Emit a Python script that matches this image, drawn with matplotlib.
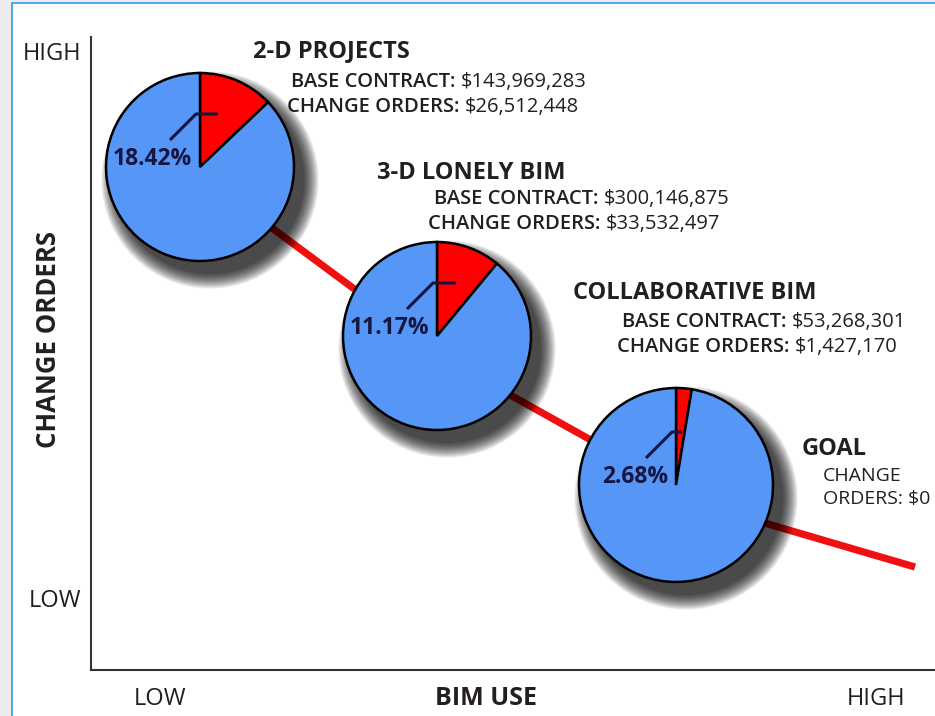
import matplotlib.pyplot as plt
from matplotlib.patches import Circle, Rectangle

plt.rcParams['font.family'] = ['Open Sans', 'DejaVu Sans']

# data
stages = ["2-D PROJECTS", "3-D LONELY BIM", "COLLABORATIVE BIM"]
base_contract = ["$143,969,283", "$300,146,875", "$53,268,301"]
change_orders = ["$26,512,448", "$33,532,497", "$1,427,170"]
pct_labels = ["18.42%", "11.17%", "2.68%"]
red_share = [0.129, 0.110, 0.026]      # slice size as drawn
bim_use = [109, 346, 585]              # pie centres, chart units
change_level = [503, 334, 185]
pie_radius = [94, 94, 97]
leader_end = [18, 19, 6]

curve_x = [109, 181, 262, 346, 421, 498, 585, 677, 759, 824]
curve_y = [503, 442, 382, 334, 274, 231, 185, 146, 122, 103]

# text positions in image pixels (left, baseline)
title_pos = [(253, 57), (377, 179), (573, 299)]
base_pos = [(291, 87), (434, 204), (622, 327)]
change_pos = [(287, 112), (428, 229), (617, 352)]

TXT = '#231f20'
NAVY = '#161640'
BLUE = '#5596f7'
RED = '#ff0000'

fig = plt.figure(figsize=(9.35, 7.16), dpi=100, facecolor='#ececec')

canvas = fig.add_axes([0, 0, 1, 1])
canvas.set_xlim(0, 935)
canvas.set_ylim(716, 0)
canvas.axis('off')
canvas.add_patch(Rectangle((12, 3), 940, 730, facecolor='white',
                           edgecolor='#3aa6e6', lw=1.3))

ax = fig.add_axes([91 / 935, 46 / 716, 844 / 935, 633 / 716], facecolor='none')

ax.plot(curve_x, curve_y, color='#f01010', lw=5.2, solid_capstyle='butt',
        solid_joinstyle='round', zorder=1, clip_on=False)

for i in range(3):
    cx, cy, r = bim_use[i], change_level[i], pie_radius[i]
    # soft drop shadow, offset down-right
    for k in range(28):
        ax.add_patch(Circle((cx + 10, cy - 13), r + k * 0.55, color='black',
                            alpha=0.04, lw=0, zorder=2))
    ax.pie([red_share[i], 1 - red_share[i]], colors=[RED, BLUE],
           center=(cx, cy), radius=r, startangle=90, counterclock=False,
           frame=True,
           wedgeprops=dict(edgecolor='black', linewidth=1.8, zorder=3))
    ax.plot([cx - 30, cx - 4, cx + leader_end[i]],
            [cy + 27, cy + 53, cy + 53], color=NAVY, lw=2.2, zorder=4,
            solid_capstyle='butt')
    ax.text(cx - 8, cy + 2, pct_labels[i], ha='right', va='baseline',
            fontsize=16.5, fontweight='bold', color=NAVY, zorder=5)

ax.set_xlim(0, 844)
ax.set_ylim(0, 633)
ax.set_xticks([])
ax.set_yticks([])
for s in ['top', 'right']:
    ax.spines[s].set_visible(False)
for s in ['left', 'bottom']:
    ax.spines[s].set_color('#333333')
    ax.spines[s].set_linewidth(1.5)

# stage annotations
for i in range(3):
    canvas.text(title_pos[i][0], title_pos[i][1], stages[i], fontsize=17,
                fontweight='bold', color=TXT, va='baseline')
    for pos, lab, val in [(base_pos[i], 'BASE CONTRACT:', base_contract[i]),
                          (change_pos[i], 'CHANGE ORDERS:', change_orders[i])]:
        t = canvas.text(pos[0], pos[1], lab, fontsize=14.5, fontweight='semibold',
                        color=TXT, va='baseline')
        canvas.annotate(val, xy=(1, 0), xycoords=t, xytext=(4, 0),
                        textcoords='offset points', fontsize=14.5, color=TXT,
                        va='bottom')

canvas.text(802, 455, 'GOAL', fontsize=17, fontweight='bold', color=TXT,
            va='baseline')
canvas.text(823, 481, 'CHANGE', fontsize=14, color=TXT, va='baseline')
canvas.text(823, 504, 'ORDERS: $0', fontsize=14, color=TXT, va='baseline')

# axis words
canvas.text(81, 60, 'HIGH', fontsize=17, color=TXT, ha='right', va='baseline')
canvas.text(81, 607, 'LOW', fontsize=17, color=TXT, ha='right', va='baseline')
canvas.text(49, 340, 'CHANGE ORDERS', fontsize=18.5, fontweight='bold',
            color=TXT, rotation=90, ha='center', va='center')
canvas.text(134, 705, 'LOW', fontsize=17, color=TXT, va='baseline')
canvas.text(486, 705, 'BIM USE', fontsize=18, fontweight='bold', color=TXT,
            ha='center', va='baseline')
canvas.text(905, 705, 'HIGH', fontsize=17, color=TXT, ha='right', va='baseline')

fig.savefig('out.png', dpi=100, facecolor=fig.get_facecolor())
